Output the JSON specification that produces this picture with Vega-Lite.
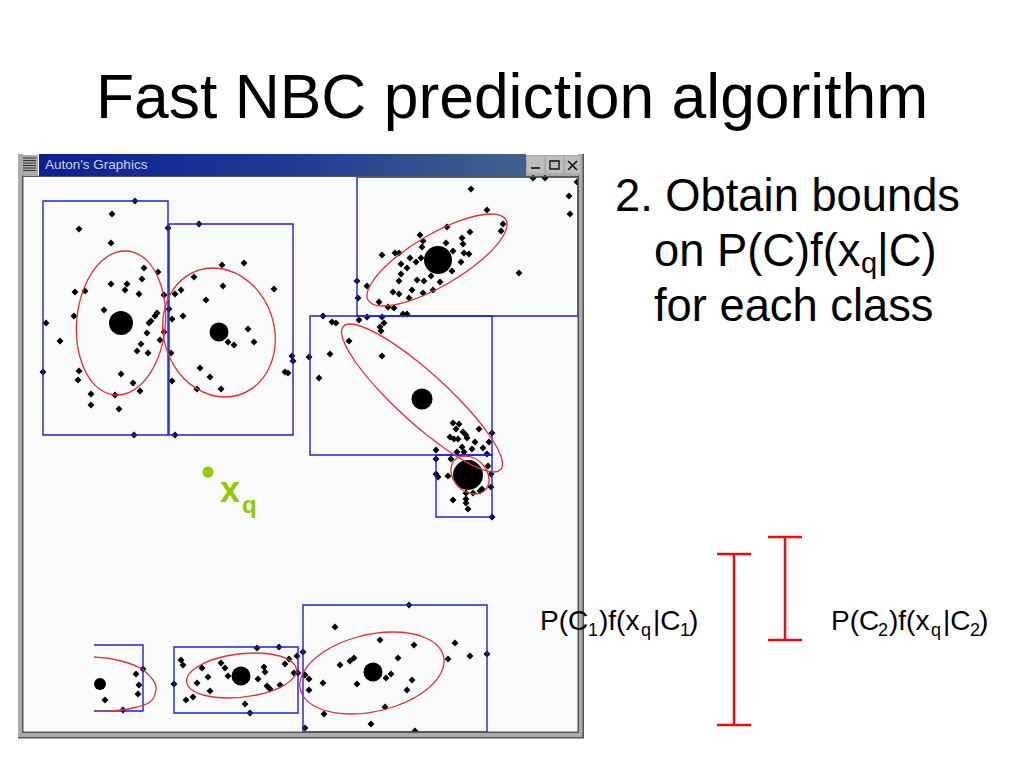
{
"$schema":"https://vega.github.io/schema/vega-lite/v6.json",
"width":1024,"height":768,"padding":0,
"autosize":{"type":"fit","contains":"padding"},
"background":"#ffffff",
"config":{"view":{"stroke":null},"text":{"font":"Liberation Sans"}},
"datasets":{
"inner":[{"x":23,"x2":578,"y":176,"y2":732}],
"points":[
{"x":135,"y":201},{"x":112,"y":214},{"x":79,"y":229},{"x":111,"y":243},{"x":144,"y":268},{"x":158,"y":272},{"x":142,"y":279},{"x":111,"y":284},{"x":127,"y":284},{"x":125,"y":290},{"x":139,"y":294},{"x":75,"y":292},{"x":85,"y":291},{"x":164,"y":295},{"x":104,"y":310},{"x":74,"y":316},{"x":46,"y":323},{"x":157,"y":313},{"x":155,"y":316},{"x":151,"y":321},{"x":149,"y":323},{"x":147,"y":333},{"x":164,"y":332},{"x":160,"y":340},{"x":141,"y":344},{"x":137,"y":351},{"x":148,"y":353},{"x":60,"y":341},{"x":43,"y":372},{"x":79,"y":371},{"x":78,"y":380},{"x":121,"y":374},{"x":133,"y":383},{"x":140,"y":391},{"x":91,"y":394},{"x":115,"y":395},{"x":91,"y":405},{"x":119,"y":409},{"x":134,"y":435},{"x":175,"y":435},{"x":168,"y":228},{"x":199,"y":224},{"x":222,"y":265},{"x":244,"y":263},{"x":194,"y":277},{"x":223,"y":286},{"x":274,"y":289},{"x":181,"y":290},{"x":175,"y":294},{"x":206,"y":300},{"x":169,"y":309},{"x":172,"y":319},{"x":183,"y":316},{"x":248,"y":329},{"x":254,"y":342},{"x":228,"y":342},{"x":234,"y":345},{"x":171,"y":353},{"x":292,"y":356},{"x":293,"y":361},{"x":309,"y":357},{"x":200,"y":368},{"x":210,"y":377},{"x":285,"y":372},{"x":288,"y":373},{"x":172,"y":381},{"x":197,"y":389},{"x":221,"y":389},
{"x":471,"y":189},{"x":533,"y":178},{"x":545,"y":178},{"x":577,"y":182},{"x":569,"y":196},{"x":570,"y":214},{"x":487,"y":210},{"x":503,"y":224},{"x":501,"y":231},{"x":447,"y":227},{"x":470,"y":232},{"x":462,"y":238},{"x":420,"y":235},{"x":423,"y":241},{"x":422,"y":247},{"x":446,"y":243},{"x":463,"y":244},{"x":453,"y":251},{"x":464,"y":253},{"x":469,"y":254},{"x":382,"y":255},{"x":395,"y":253},{"x":399,"y":253},{"x":410,"y":258},{"x":416,"y":262},{"x":421,"y":258},{"x":401,"y":264},{"x":407,"y":268},{"x":461,"y":262},{"x":401,"y":274},{"x":452,"y":271},{"x":519,"y":273},{"x":431,"y":276},{"x":399,"y":281},{"x":417,"y":280},{"x":424,"y":281},{"x":440,"y":282},{"x":357,"y":281},{"x":367,"y":286},{"x":393,"y":292},{"x":399,"y":294},{"x":412,"y":290},{"x":423,"y":293},{"x":433,"y":290},{"x":358,"y":298},{"x":409,"y":298},{"x":379,"y":302},{"x":388,"y":307},{"x":394,"y":308},{"x":403,"y":314},{"x":407,"y":314},{"x":323,"y":316},{"x":359,"y":320},{"x":367,"y":317},{"x":382,"y":317},{"x":332,"y":322},{"x":336,"y":323},{"x":384,"y":323},{"x":380,"y":327},{"x":381,"y":331},{"x":349,"y":341},{"x":330,"y":354},{"x":382,"y":356},{"x":319,"y":378},
{"x":453,"y":423},{"x":459,"y":424},{"x":456,"y":429},{"x":479,"y":429},{"x":463,"y":432},{"x":466,"y":435},{"x":467,"y":438},{"x":450,"y":437},{"x":454,"y":439},{"x":458,"y":439},{"x":475,"y":442},{"x":492,"y":433},{"x":489,"y":442},{"x":483,"y":448},{"x":462,"y":447},{"x":472,"y":449},{"x":436,"y":450},{"x":457,"y":452},{"x":464,"y":452},{"x":487,"y":454},{"x":436,"y":459},{"x":451,"y":459},{"x":488,"y":466},{"x":436,"y":474},{"x":438,"y":477},{"x":448,"y":476},{"x":491,"y":474},{"x":491,"y":487},{"x":482,"y":489},{"x":480,"y":491},{"x":466,"y":493},{"x":473,"y":493},{"x":453,"y":500},{"x":466,"y":499},{"x":466,"y":503},{"x":468,"y":509},{"x":492,"y":517},
{"x":409,"y":605},{"x":335,"y":627},{"x":380,"y":640},{"x":414,"y":645},{"x":455,"y":643},{"x":470,"y":656},{"x":487,"y":654},{"x":303,"y":652},{"x":448,"y":659},{"x":398,"y":658},{"x":354,"y":658},{"x":350,"y":661},{"x":340,"y":665},{"x":391,"y":674},{"x":386,"y":678},{"x":412,"y":680},{"x":357,"y":684},{"x":323,"y":683},{"x":305,"y":675},{"x":309,"y":679},{"x":309,"y":690},{"x":407,"y":690},{"x":385,"y":707},{"x":324,"y":714},{"x":371,"y":724},{"x":305,"y":728},{"x":415,"y":731},
{"x":143,"y":669},{"x":136,"y":674},{"x":139,"y":685},{"x":138,"y":694},{"x":105,"y":700},{"x":123,"y":710},{"x":181,"y":660},{"x":183,"y":665},{"x":202,"y":668},{"x":221,"y":663},{"x":225,"y":668},{"x":228,"y":676},{"x":208,"y":677},{"x":197,"y":683},{"x":174,"y":684},{"x":210,"y":691},{"x":193,"y":697},{"x":186,"y":700},{"x":257,"y":648},{"x":279,"y":647},{"x":297,"y":656},{"x":289,"y":659},{"x":285,"y":664},{"x":264,"y":667},{"x":265,"y":672},{"x":258,"y":679},{"x":294,"y":673},{"x":298,"y":673},{"x":267,"y":686},{"x":270,"y":689},{"x":280,"y":685},{"x":245,"y":704},{"x":250,"y":713}
],
"centers":[{"x":121,"y":323,"s":576},{"x":219,"y":332,"s":361},{"x":438,"y":260,"s":784},{"x":422,"y":399,"s":441},{"x":468,"y":475,"s":900},{"x":373,"y":672,"s":361},{"x":241,"y":676,"s":361},{"x":100,"y":684,"s":144}],
"boxes":[{"x":43,"x2":168,"y":201,"y2":435},{"x":169,"x2":293,"y":224,"y2":435},{"x":357,"x2":578,"y":177,"y2":316},{"x":310,"x2":492,"y":316,"y2":455},{"x":436,"x2":492,"y":455,"y2":517},{"x":303,"x2":487,"y":605,"y2":732},{"x":174,"x2":298,"y":647,"y2":713}],
"openbox":[{"i":1,"x":94,"y":645},{"i":2,"x":143,"y":645},{"i":3,"x":143,"y":711},{"i":4,"x":94,"y":711}],
"ell":[
{"id":1,"i":1,"x":125,"y":251},{"id":1,"i":2,"x":147,"y":260.6},{"id":1,"i":3,"x":161.5,"y":287},{"id":1,"i":4,"x":165.5,"y":323},{"id":1,"i":5,"x":157.5,"y":359},{"id":1,"i":6,"x":139.8,"y":385.4},{"id":1,"i":7,"x":117,"y":395},{"id":1,"i":8,"x":95.2,"y":385.4},{"id":1,"i":9,"x":80.5,"y":359},{"id":1,"i":10,"x":76.5,"y":323},{"id":1,"i":11,"x":84.5,"y":287},{"id":1,"i":12,"x":102.2,"y":260.6},
{"id":2,"i":1,"x":213,"y":268},{"id":2,"i":2,"x":241.8,"y":276.6},{"id":2,"i":3,"x":264.5,"y":300.2},{"id":2,"i":4,"x":275,"y":332.5},{"id":2,"i":5,"x":270.5,"y":364.8},{"id":2,"i":6,"x":252.2,"y":388.4},{"id":2,"i":7,"x":225,"y":397},{"id":2,"i":8,"x":196.2,"y":388.4},{"id":2,"i":9,"x":173.5,"y":364.8},{"id":2,"i":10,"x":163,"y":332.5},{"id":2,"i":11,"x":167.5,"y":300.2},{"id":2,"i":12,"x":185.8,"y":276.6},
{"id":3,"i":1,"x":491,"y":214},{"id":3,"i":2,"x":506.1,"y":220.2},{"id":3,"i":3,"x":502.5,"y":237},{"id":3,"i":4,"x":481.5,"y":260},{"id":3,"i":5,"x":448.5,"y":283},{"id":3,"i":6,"x":412.5,"y":299.8},{"id":3,"i":7,"x":383,"y":306},{"id":3,"i":8,"x":367.9,"y":299.8},{"id":3,"i":9,"x":371.5,"y":283},{"id":3,"i":10,"x":392.5,"y":260},{"id":3,"i":11,"x":425.5,"y":237},{"id":3,"i":12,"x":461.5,"y":220.2},
{"id":4,"i":1,"x":350,"y":324},{"id":4,"i":2,"x":377.6,"y":333.9},{"id":4,"i":3,"x":417.2,"y":361},{"id":4,"i":4,"x":458,"y":398},{"id":4,"i":5,"x":489.2,"y":435},{"id":4,"i":6,"x":502.4,"y":462.1},{"id":4,"i":7,"x":494,"y":472},{"id":4,"i":8,"x":466.4,"y":462.1},{"id":4,"i":9,"x":426.8,"y":435},{"id":4,"i":10,"x":386,"y":398},{"id":4,"i":11,"x":354.8,"y":361},{"id":4,"i":12,"x":341.6,"y":333.9},
{"id":5,"i":1,"x":465,"y":456},{"id":5,"i":2,"x":475,"y":458.5},{"id":5,"i":3,"x":483.5,"y":465.5},{"id":5,"i":4,"x":488.5,"y":475},{"id":5,"i":5,"x":488.5,"y":484.5},{"id":5,"i":6,"x":483.6,"y":491.5},{"id":5,"i":7,"x":475,"y":494},{"id":5,"i":8,"x":465,"y":491.5},{"id":5,"i":9,"x":456.5,"y":484.5},{"id":5,"i":10,"x":451.5,"y":475},{"id":5,"i":11,"x":451.5,"y":465.5},{"id":5,"i":12,"x":456.4,"y":458.5},
{"id":6,"i":1,"x":393,"y":632},{"id":6,"i":2,"x":424.7,"y":637.5},{"id":6,"i":3,"x":442.3,"y":652.5},{"id":6,"i":4,"x":441,"y":673},{"id":6,"i":5,"x":421.3,"y":693.5},{"id":6,"i":6,"x":388.3,"y":708.5},{"id":6,"i":7,"x":351,"y":714},{"id":6,"i":8,"x":319.3,"y":708.5},{"id":6,"i":9,"x":301.7,"y":693.5},{"id":6,"i":10,"x":303,"y":673},{"id":6,"i":11,"x":322.7,"y":652.5},{"id":6,"i":12,"x":355.7,"y":637.5},
{"id":7,"i":1,"x":254.5,"y":653},{"id":7,"i":2,"x":279.6,"y":656},{"id":7,"i":3,"x":294.3,"y":664.3},{"id":7,"i":4,"x":295,"y":675.5},{"id":7,"i":5,"x":281.3,"y":686.8},{"id":7,"i":6,"x":257,"y":695},{"id":7,"i":7,"x":228.5,"y":698},{"id":7,"i":8,"x":203.4,"y":695},{"id":7,"i":9,"x":188.7,"y":686.8},{"id":7,"i":10,"x":188,"y":675.5},{"id":7,"i":11,"x":201.7,"y":664.3},{"id":7,"i":12,"x":226,"y":656}
],
"arc":[{"i":1,"x":94,"y":657},{"i":2,"x":117,"y":660},{"i":3,"x":140,"y":668},{"i":4,"x":153,"y":680},{"i":5,"x":156,"y":690},{"i":6,"x":150,"y":702},{"i":7,"x":133,"y":708},{"i":8,"x":110,"y":711},{"i":9,"x":94,"y":711}],
"framegrey":[{"x":18,"x2":23,"y":154,"y2":738},{"x":578,"x2":583,"y":154,"y2":738},{"x":18,"x2":583,"y":732,"y2":737},{"x":526,"x2":581,"y":155,"y2":175},{"x":21,"x2":38,"y":155,"y2":175}],
"framedark":[{"x":22,"x2":23.5,"y":176,"y2":733},{"x":22,"x2":579,"y":731.5,"y2":733},{"x":577.5,"x2":579,"y":176,"y2":733},{"x":582.5,"x2":584,"y":154,"y2":738},{"x":18,"x2":584,"y":737,"y2":738.5},{"x":22,"x2":579,"y":175.5,"y2":177}],
"titlebar":[{"x":39,"x2":526,"y":154,"y2":176}],
"btn":[{"x":527,"x2":544,"y":156,"y2":173},{"x":546,"x2":563,"y":156,"y2":173},{"x":565,"x2":580,"y":156,"y2":173}],
"menu":[{"x":23,"x2":36,"y":158},{"x":23,"x2":36,"y":160.5},{"x":23,"x2":36,"y":163},{"x":23,"x2":36,"y":165.5},{"x":23,"x2":36,"y":168},{"x":23,"x2":36,"y":170.5}],
"glyphs":[{"x":531,"x2":540,"y":168,"y2":168},{"x":568,"x2":577,"y":161,"y2":170},{"x":568,"x2":577,"y":170,"y2":161}],
"maxglyph":[{"x":550,"x2":559,"y":161,"y2":169}],
"wtitle":[{"t":"Auton's Graphics","x":45,"y":169}],
"bars":[{"x":734,"y":554,"y2":725},{"x":785,"y":537,"y2":640}],
"caps":[{"x":717,"x2":751,"y":554},{"x":717,"x2":751,"y":725},{"x":768,"x2":802,"y":537},{"x":768,"x2":802,"y":640}],
"qpoint":[{"x":208,"y":472}],
"qx":[{"t":"x","x":220,"y":502}],
"qq":[{"t":"q","x":242,"y":513}],
"title":[{"t":"Fast NBC prediction algorithm","x":96,"y":118}],
"body":[{"t":"2. Obtain bounds","x":615,"y":211},{"t":"on P(C)f(x","x":654,"y":266},{"t":"|C)","x":877,"y":266},{"t":"for each class","x":654,"y":321}],
"bodysub":[{"t":"q","x":861,"y":273}],
"label":[{"t":"P(C","x":540,"y":630},{"t":")f(x","x":599,"y":630},{"t":"|C","x":653,"y":630},{"t":")","x":689,"y":630},{"t":"P(C","x":831,"y":630},{"t":")f(x","x":889,"y":630},{"t":"|C","x":943,"y":630},{"t":")","x":979,"y":630}],
"labelsub":[{"t":"1","x":588,"y":636},{"t":"q","x":641,"y":636},{"t":"1","x":680,"y":636},{"t":"2","x":878,"y":636},{"t":"q","x":931,"y":636},{"t":"2","x":970,"y":636}]
},
"encoding":{
"x":{"field":"x","type":"quantitative","scale":{"domain":[0,1024]},"axis":null},
"y":{"field":"y","type":"quantitative","scale":{"domain":[0,768],"reverse":true},"axis":null}
},
"layer":[
{"data":{"name":"inner"},"mark":{"type":"rect","fill":"#f8fbf9"},"encoding":{"x2":{"field":"x2"},"y2":{"field":"y2"}}},
{"data":{"name":"points"},"mark":{"type":"point","shape":"diamond","filled":true,"fill":"#000000","size":48,"opacity":1,"strokeWidth":0}},
{"data":{"name":"centers"},"mark":{"type":"circle","fill":"#000000","opacity":1},"encoding":{"size":{"field":"s","type":"quantitative","scale":null,"legend":null}}},
{"data":{"name":"boxes"},"mark":{"type":"rect","filled":false,"stroke":"#2222cc","strokeWidth":1.4},"encoding":{"x2":{"field":"x2"},"y2":{"field":"y2"}}},
{"data":{"name":"openbox"},"mark":{"type":"line","stroke":"#2222cc","strokeWidth":1.4},"encoding":{"order":{"field":"i"}}},
{"data":{"name":"ell"},"mark":{"type":"line","stroke":"#e0303c","strokeWidth":1.3,"interpolate":"cardinal-closed"},"encoding":{"detail":{"field":"id"},"order":{"field":"i"}}},
{"data":{"name":"arc"},"mark":{"type":"line","stroke":"#e0303c","strokeWidth":1.3,"interpolate":"cardinal"},"encoding":{"order":{"field":"i"}}},
{"data":{"name":"framegrey"},"mark":{"type":"rect","fill":"#ababab"},"encoding":{"x2":{"field":"x2"},"y2":{"field":"y2"}}},
{"data":{"name":"framedark"},"mark":{"type":"rect","fill":"#555555"},"encoding":{"x2":{"field":"x2"},"y2":{"field":"y2"}}},
{"data":{"name":"titlebar"},"mark":{"type":"rect","fill":{"gradient":"linear","x1":0,"y1":0,"x2":1,"y2":0,"stops":[{"offset":0,"color":"#0c1f93"},{"offset":0.5,"color":"#1f3a92"},{"offset":1,"color":"#41628f"}]}},"encoding":{"x2":{"field":"x2"},"y2":{"field":"y2"}}},
{"data":{"name":"btn"},"mark":{"type":"rect","fill":"#bdbdbd"},"encoding":{"x2":{"field":"x2"},"y2":{"field":"y2"}}},
{"data":{"name":"menu"},"mark":{"type":"rule","stroke":"#333333","strokeWidth":1},"encoding":{"x2":{"field":"x2"}}},
{"data":{"name":"glyphs"},"mark":{"type":"rule","stroke":"#111111","strokeWidth":1.6},"encoding":{"x2":{"field":"x2"},"y2":{"field":"y2"}}},
{"data":{"name":"maxglyph"},"mark":{"type":"rect","filled":false,"stroke":"#111111","strokeWidth":1.4},"encoding":{"x2":{"field":"x2"},"y2":{"field":"y2"}}},
{"data":{"name":"wtitle"},"mark":{"type":"text","align":"left","baseline":"alphabetic","fontSize":13.5,"fill":"#cfd6ea"},"encoding":{"text":{"field":"t"}}},
{"data":{"name":"bars"},"mark":{"type":"rule","stroke":"#ee0a14","strokeWidth":2.5},"encoding":{"y2":{"field":"y2"}}},
{"data":{"name":"caps"},"mark":{"type":"rule","stroke":"#ee0a14","strokeWidth":2.5},"encoding":{"x2":{"field":"x2"}}},
{"data":{"name":"qpoint"},"mark":{"type":"circle","fill":"#93c900","size":121,"opacity":1}},
{"data":{"name":"qx"},"mark":{"type":"text","align":"left","baseline":"alphabetic","fontSize":36,"fontWeight":"bold","fill":"#93c900"},"encoding":{"text":{"field":"t"}}},
{"data":{"name":"qq"},"mark":{"type":"text","align":"left","baseline":"alphabetic","fontSize":24,"fontWeight":"bold","fill":"#93c900"},"encoding":{"text":{"field":"t"}}},
{"data":{"name":"title"},"mark":{"type":"text","align":"left","baseline":"alphabetic","fontSize":62.4,"fill":"#000000"},"encoding":{"text":{"field":"t"}}},
{"data":{"name":"body"},"mark":{"type":"text","align":"left","baseline":"alphabetic","fontSize":45.3,"fill":"#000000"},"encoding":{"text":{"field":"t"}}},
{"data":{"name":"bodysub"},"mark":{"type":"text","align":"left","baseline":"alphabetic","fontSize":29,"fill":"#000000"},"encoding":{"text":{"field":"t"}}},
{"data":{"name":"label"},"mark":{"type":"text","align":"left","baseline":"alphabetic","fontSize":28,"fill":"#000000"},"encoding":{"text":{"field":"t"}}},
{"data":{"name":"labelsub"},"mark":{"type":"text","align":"left","baseline":"alphabetic","fontSize":18,"fill":"#000000"},"encoding":{"text":{"field":"t"}}}
]
}
